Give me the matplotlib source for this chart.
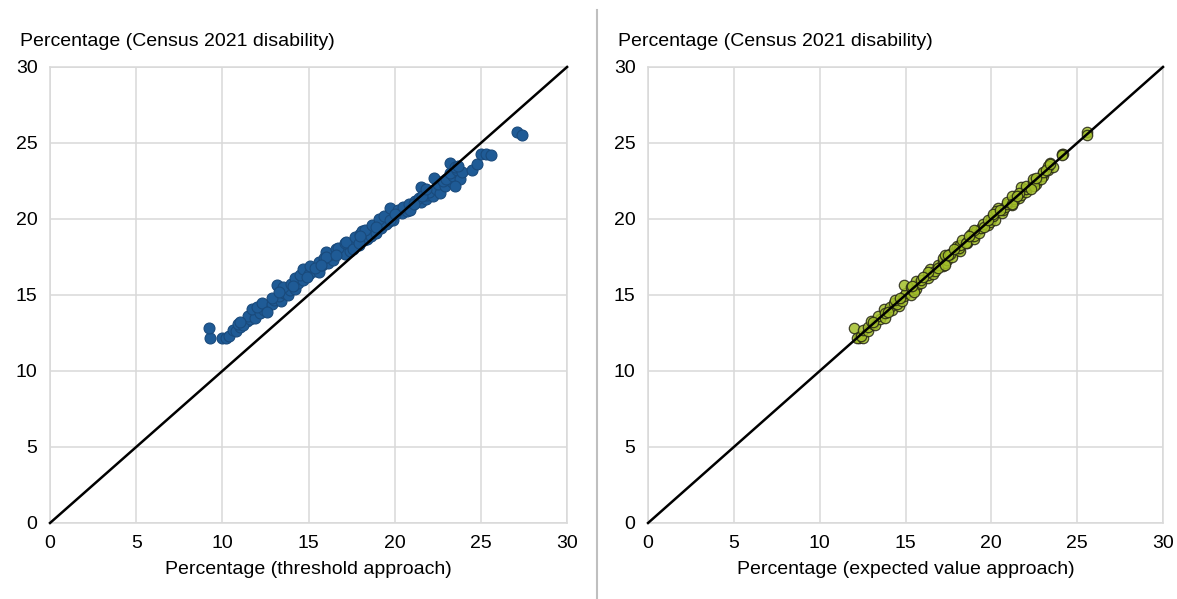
import matplotlib
matplotlib.use("Agg")
import matplotlib.pyplot as plt
from matplotlib.lines import Line2D

plt.rcParams['font.family'] = ['Liberation Sans', 'DejaVu Sans']

# census 2021 disability % for each area, with the two modelled estimates
census = [12.2, 12.8, 12.2, 12.2, 12.3, 12.7, 12.6, 12.9, 13.1, 13.3,
          13.0, 13.4, 13.6, 13.5, 14.05, 13.8, 14.0, 14.2, 14.3, 14.5,
          14.4, 14.7, 14.6, 14.9, 15.1, 15.66, 15.0, 15.3, 15.5, 15.4,
          15.7, 15.9, 15.8, 16.1, 16.0, 16.3, 16.7, 16.4, 16.6, 16.5,
          16.9, 17.0, 17.2, 17.1, 17.4, 17.3, 17.6, 17.8, 17.5, 17.7,
          18.0, 17.9, 18.2, 18.1, 18.4, 18.3, 18.6, 18.5, 18.8, 18.7,
          19.0, 18.9, 19.2, 19.1, 19.4, 19.3, 19.6, 19.8, 19.7, 20.0,
          19.9, 20.2, 20.7, 20.4, 20.6, 20.5, 20.8, 20.9, 21.0, 21.2,
          21.1, 21.4, 22.1, 21.3, 21.6, 21.5, 21.8, 22.0, 21.7, 22.3,
          22.2, 22.5, 22.4, 22.6, 22.8, 23.0, 23.7, 23.2, 23.4, 22.6,
          23.1, 23.5, 22.2, 23.2, 23.6, 24.3, 24.3, 24.2, 25.7, 25.5,
          14.8, 15.2, 15.6, 16.2, 16.8, 17.0, 17.6, 18.0, 18.4, 18.9,
          19.5, 19.9, 20.3, 20.6, 21.0, 21.5, 22.0, 22.7, 13.9, 13.2]
threshold = [9.3, 9.2, 10.0, 10.2, 10.4, 10.6, 10.8, 11.0, 10.9, 11.4,
             11.2, 11.6, 11.5, 11.9, 11.7, 12.2, 12.4, 12.0, 12.6, 12.3,
             12.9, 13.0, 13.4, 13.3, 13.6, 13.15, 13.8, 13.9, 13.5, 14.2,
             14.0, 14.4, 14.4, 14.2, 14.7, 14.5, 14.7, 15.0, 15.3, 15.6,
             15.1, 15.8, 15.6, 16.1, 15.9, 16.4, 16.2, 16.0, 16.0, 17.1,
             16.6, 17.4, 17.6, 16.7, 17.1, 17.9, 18.2, 17.2, 17.7, 18.4,
             18.0, 18.6, 18.1, 18.9, 19.2, 18.3, 18.7, 19.6, 19.5, 19.1,
             19.9, 19.4, 19.7, 20.4, 20.2, 20.7, 20.5, 21.0, 20.8, 21.2,
             21.5, 21.4, 21.5, 21.8, 21.9, 22.2, 22.0, 22.4, 22.6, 22.5,
             22.9, 22.8, 23.3, 23.0, 23.4, 23.2, 23.2, 23.6, 23.5, 23.8,
             23.9, 23.7, 23.5, 24.5, 24.8, 25.0, 25.3, 25.6, 27.1, 27.4,
             12.9, 13.3, 14.1, 14.9, 15.4, 15.7, 16.6, 17.6, 17.9, 18.0,
             18.9, 19.7, 20.0, 20.9, 21.1, 21.6, 21.8, 22.3, 12.6, 11.0]
expected = [12.3, 12.0, 12.2, 12.5, 12.4, 12.5, 12.8, 12.8, 13.1, 13.0,
            13.2, 13.5, 13.4, 13.8, 13.75, 13.8, 14.2, 14.1, 14.6, 14.3,
            14.5, 14.4, 14.8, 14.9, 15.0, 14.9, 15.3, 15.4, 15.3, 15.6,
            15.7, 15.6, 15.9, 16.3, 15.9, 16.3, 16.4, 16.6, 16.7, 16.3,
            17.2, 16.9, 17.2, 17.3, 17.2, 17.4, 17.3, 17.8, 17.7, 17.6,
            18.1, 18.2, 18.0, 18.1, 18.6, 18.2, 18.3, 18.6, 18.8, 19.0,
            18.8, 19.0, 19.1, 19.3, 19.4, 19.0, 19.8, 19.9, 19.5, 20.0,
            20.2, 20.1, 20.4, 20.6, 20.7, 20.3, 20.8, 21.2, 20.9, 21.3,
            20.9, 21.6, 21.7, 21.3, 21.7, 21.2, 22.0, 22.0, 21.6, 22.6,
            22.0, 22.6, 22.4, 22.4, 23.0, 23.0, 23.4, 23.3, 23.6, 22.9,
            23.0, 23.3, 22.5, 23.2, 23.4, 24.1, 24.2, 24.1, 25.6, 25.6,
            14.7, 15.5, 15.4, 16.0, 16.9, 17.3, 17.5, 17.8, 18.5, 18.7,
            19.6, 19.8, 20.1, 20.5, 21.2, 21.5, 22.3, 22.6, 14.0, 13.1]

ticks = [0, 5, 10, 15, 20, 25, 30]
lims = [0, 30]
ylab = "Percentage (Census 2021 disability)"
xlabs = ["Percentage (threshold approach)", "Percentage (expected value approach)"]
grid_col = '#d9d9d9'
fs = 14

fig = plt.figure(figsize=(11.77, 5.99), dpi=100)
ax1 = fig.add_axes([0.0425, 0.1269, 0.4393, 0.7613])
ax2 = fig.add_axes([0.5506, 0.1269, 0.4375, 0.7613])

ax1.scatter(threshold, census, s=62, facecolor='#1f5b96', edgecolor='#194a7c',
            linewidth=0.8, zorder=3)
ax2.scatter(expected, census, s=56, facecolor='#a3bf2a', edgecolor='#262616',
            linewidth=0.9, alpha=0.85, zorder=3)

for ax, xl in zip([ax1, ax2], xlabs):
    ax.plot(lims, lims, color='black', lw=1.8, zorder=4, clip_on=False)
    ax.set_xlim(lims)
    ax.set_ylim(lims)
    ax.set_xticks(ticks)
    ax.set_yticks(ticks)
    ax.grid(True, color=grid_col, lw=1.1, zorder=0)
    ax.set_axisbelow(True)
    for s in ax.spines.values():
        s.set_color(grid_col)
        s.set_linewidth(1.1)
    ax.tick_params(length=0, labelsize=fs, pad=9, colors='black')
    ax.set_xlabel(xl, fontsize=fs, labelpad=6)

fig.text(20 / 1177, 1 - 42 / 599, ylab, fontsize=fs, va='center', ha='left')
fig.text(618 / 1177, 1 - 42 / 599, ylab, fontsize=fs, va='center', ha='left')

fig.add_artist(Line2D([597 / 1177, 597 / 1177], [0, 1 - 10 / 599],
                      color='#bfbfbf', lw=1.5))

fig.savefig('out.png', dpi=100)
